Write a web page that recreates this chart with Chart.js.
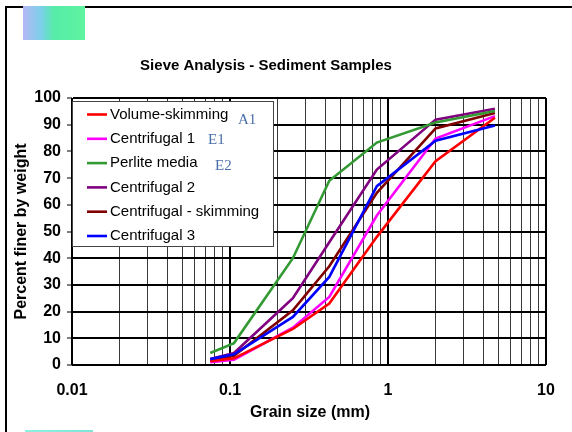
<!DOCTYPE html>
<html>
<head>
<meta charset="utf-8">
<script src="https://cdn.jsdelivr.net/npm/chart.js@4.4.1/dist/chart.umd.min.js"></script>
<style>
  html, body { margin: 0; padding: 0; background: #fff; }
  #wrap { position: relative; width: 572px; height: 432px; overflow: hidden; }
  canvas { display: block; }
</style>
</head>
<body>
<div id="wrap"><canvas id="c" width="572" height="432"></canvas></div>
<script>
// ---- data ----
const grainSizes = [0.075, 0.106, 0.25, 0.425, 0.85, 2, 4.75];
const seriesNames = ['Volume-skimming', 'Centrifugal 1', 'Perlite media', 'Centrifugal 2', 'Centrifugal - skimming', 'Centrifugal 3'];
const volumeSkimming = [1.4, 2.5, 13.5, 23, 48, 76.3, 92.6];
const centrifugal1 = [1.0, 2.0, 14, 25.5, 56, 84.8, 93.2];
const perliteMedia = [4.5, 8.2, 40, 69, 83.3, 90.8, 95.1];
const centrifugal2 = [2.2, 4.5, 25, 46, 73.2, 91.9, 96];
const centrifugalSkimming = [2.0, 3.5, 20.5, 37, 64.5, 88.6, 94.4];
const centrifugal3 = [2.2, 4.0, 18, 33, 67, 84, 89.7];
const seriesColors = ['#ff0000', '#ff00ff', '#339933', '#800080', '#800000', '#0000ff'];
const xTickLabels = [0.01, 0.1, 1, 10];
const annotationLabels = ['A1', 'E1', 'E2'];
const chartTitle = 'Sieve Analysis - Sediment Samples';
const xTitle = 'Grain size (mm)';
const yTitle = 'Percent finer by weight';

const allSeries = [volumeSkimming, centrifugal1, perliteMedia, centrifugal2, centrifugalSkimming, centrifugal3];

const datasets = allSeries.map((vals, i) => ({
  label: seriesNames[i],
  data: grainSizes.map((x, j) => ({ x: x, y: vals[j] })),
  borderColor: seriesColors[i],
  backgroundColor: seriesColors[i],
  borderWidth: 2.6,
  pointRadius: 0,
  tension: 0,
  fill: false,
  order: i === 5 ? -1 : i
}));

function isMajor(v) {
  const l = Math.log10(v);
  return Math.abs(l - Math.round(l)) < 1e-6;
}

const decorPlugin = {
  id: 'decor',
  beforeDraw(chart) {
    const ctx = chart.ctx;
    ctx.save();
    ctx.fillStyle = '#fff';
    ctx.fillRect(0, 0, chart.width, chart.height);
    // frame
    ctx.strokeStyle = '#000';
    ctx.lineWidth = 2;
    ctx.beginPath();
    ctx.moveTo(6, 440);
    ctx.lineTo(6, 7);
    ctx.lineTo(580, 7);
    ctx.stroke();
    // blob
    const g = ctx.createLinearGradient(23, 0, 85, 0);
    g.addColorStop(0, '#b4b8f4');
    g.addColorStop(0.3, '#7ad0e8');
    g.addColorStop(0.5, '#56eca8');
    g.addColorStop(1, '#5ef4a0');
    ctx.fillStyle = g;
    ctx.fillRect(23, 6, 62, 34);
    // bottom cyan line
    const g2 = ctx.createLinearGradient(25, 0, 93, 0);
    g2.addColorStop(0, '#8ef0e0');
    g2.addColorStop(1, '#7ee4d8');
    ctx.fillStyle = g2;
    ctx.fillRect(25, 430, 68, 2);
    ctx.restore();
  },
  afterDraw(chart) {
    const ctx = chart.ctx;
    const area = chart.chartArea;
    ctx.save();
    ctx.fillStyle = '#000';
    ctx.textAlign = 'center';
    ctx.textBaseline = 'middle';
    ctx.font = 'bold 15px "Liberation Sans", Arial, sans-serif';
    ctx.fillText(chartTitle, 266, 66);
    ctx.font = 'bold 16px "Liberation Sans", Arial, sans-serif';
    ctx.fillText(xTitle, 310, 413);
    ctx.translate(22, (area.top + area.bottom) / 2);
    ctx.rotate(-Math.PI / 2);
    ctx.fillText(yTitle, 0, 0);
    ctx.restore();

    // legend
    ctx.save();
    const lx = 72.5, ly = 101.5, lw = 201, lh = 145;
    ctx.fillStyle = '#fff';
    ctx.fillRect(lx, ly, lw, lh);
    ctx.strokeStyle = '#444';
    ctx.lineWidth = 1;
    ctx.strokeRect(lx, ly, lw, lh);
    ctx.font = '15px "Liberation Sans", Arial, sans-serif';
    ctx.textAlign = 'left';
    ctx.textBaseline = 'middle';
    chart.data.datasets.forEach((ds, i) => {
      const y = 114.5 + i * 24.3;
      ctx.strokeStyle = ds.borderColor;
      ctx.lineWidth = 2.6;
      ctx.beginPath();
      ctx.moveTo(87, y);
      ctx.lineTo(107, y);
      ctx.stroke();
      ctx.fillStyle = '#000';
      ctx.fillText(ds.label, 110, y);
    });
    // annotations
    ctx.fillStyle = '#4a6ea8';
    ctx.font = '15px "Liberation Serif", "Times New Roman", serif';
    const annPos = [[238, 120], [208, 140], [215, 166]];
    annotationLabels.forEach((t, i) => ctx.fillText(t, annPos[i][0], annPos[i][1]));
    ctx.restore();
  }
};

new Chart(document.getElementById('c'), {
  type: 'line',
  data: { datasets: datasets },
  options: {
    responsive: false,
    animation: false,
    layout: { padding: { top: 98, right: 26, left: 0, bottom: 0 } },
    plugins: { legend: { display: false }, title: { display: false }, tooltip: { enabled: false } },
    scales: {
      x: {
        type: 'logarithmic',
        min: 0.01,
        max: 10,
        afterBuildTicks(scale) {
          const t = [];
          for (let d = 0; d < xTickLabels.length - 1; d++) {
            for (let m = 1; m <= 9; m++) t.push({ value: +(xTickLabels[d] * m).toPrecision(6) });
          }
          t.push({ value: xTickLabels[xTickLabels.length - 1] });
          scale.ticks = t;
        },
        afterFit(scale) { scale.height = 67; },
        ticks: {
          autoSkip: false,
          maxRotation: 0,
          padding: 16,
          color: '#000',
          font: { family: '"Liberation Sans", Arial, sans-serif', size: 16, weight: 'bold' },
          callback(v) { return xTickLabels.indexOf(v) >= 0 || isMajor(v) ? String(v) : ''; }
        },
        grid: {
          drawTicks: false,
          color(ctx) { return ctx.tick && isMajor(ctx.tick.value) ? '#000' : '#3a3a3a'; },
          lineWidth(ctx) { return ctx.tick && isMajor(ctx.tick.value) ? 2 : 1; }
        },
        border: { display: false }
      },
      y: {
        type: 'linear',
        min: 0,
        max: 100,
        afterFit(scale) { scale.width = 72; },
        ticks: {
          stepSize: 10,
          padding: 6,
          color: '#000',
          font: { family: '"Liberation Sans", Arial, sans-serif', size: 16, weight: 'bold' }
        },
        grid: {
          color: '#000',
          lineWidth: 2,
          drawTicks: true,
          tickLength: 5,
          tickColor: '#000',
          tickWidth: 1
        },
        border: { display: true, color: '#000', width: 1 }
      }
    }
  },
  plugins: [decorPlugin]
});
</script>
</body>
</html>
